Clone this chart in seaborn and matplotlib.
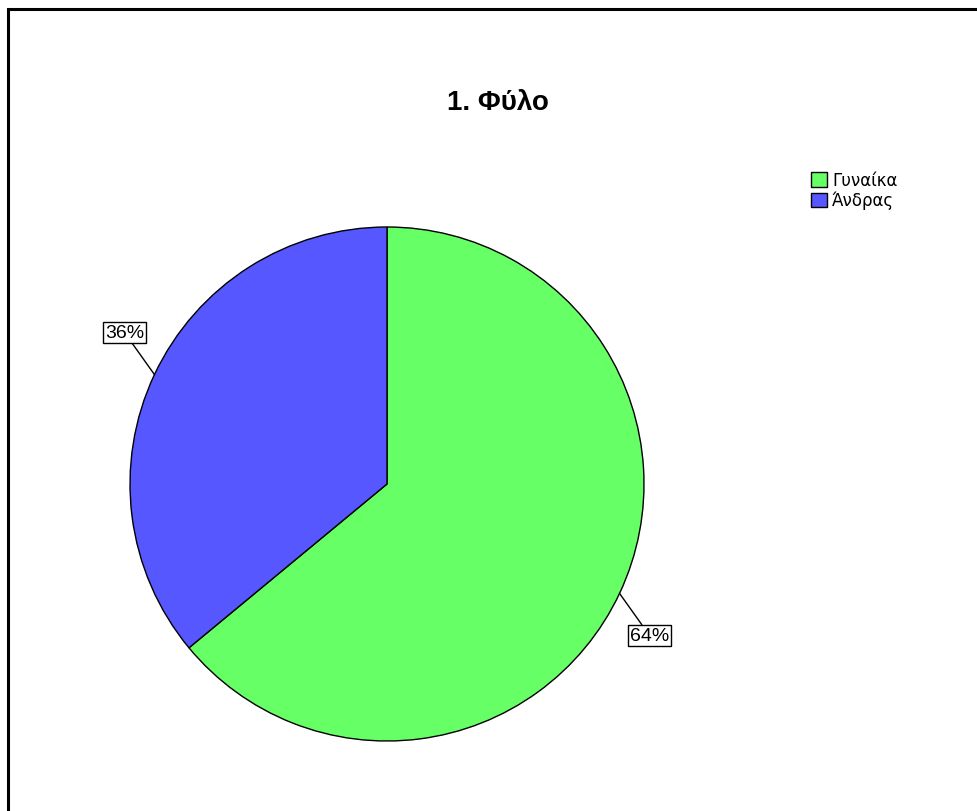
import numpy as np
import seaborn as sns
import matplotlib.pyplot as plt
from matplotlib.patches import Patch, Rectangle

# δεδομένα
categories = ['Γυναίκα', 'Άνδρας']
percentages = [64, 36]
pct_labels = ['64%', '36%']
colors = ['#66ff66', '#5757ff']

sns.set_theme(style='white')
plt.rcParams['font.family'] = ['DejaVu Sans']
plt.rcParams['text.color'] = 'black'

fig = plt.figure(figsize=(9.78, 8.12), dpi=100)
fig.patch.set_facecolor('white')

# πλαίσιο γύρω από το γράφημα (μόνο πάνω/αριστερά φαίνονται)
fig.patches.append(Rectangle((8 / 978, -0.2), 1.2, 0.2 + 1 - 10 / 812,
                             transform=fig.transFigure, fill=False,
                             edgecolor='black', linewidth=2.2))

fig.text(498 / 978, 1 - 103 / 812, '1. Φύλο', ha='center', va='center',
         fontsize=20, fontweight='bold', family=['Liberation Sans', 'DejaVu Sans'])

ax = fig.add_axes([(387 - 257) / 978, (327 - 257) / 812, 514 / 978, 514 / 812])
wedges, _ = ax.pie(percentages, colors=colors, startangle=90, counterclock=False,
                   wedgeprops=dict(edgecolor='black', linewidth=1))
ax.set_xlim(-1, 1)
ax.set_ylim(-1, 1)
ax.set_aspect('equal')
ax.axis('off')

# ετικέτες ποσοστών με γραμμές
for w, lab in zip(wedges, pct_labels):
    mid = np.deg2rad((w.theta1 + w.theta2) / 2)
    off = mid - np.deg2rad(4.8)
    ax.annotate(lab, xy=(np.cos(mid), np.sin(mid)),
                xytext=(1.18 * np.cos(off), 1.18 * np.sin(off)),
                ha='center', va='center', fontsize=14,
                family=['Liberation Sans Narrow', 'Liberation Sans', 'DejaVu Sans'],
                bbox=dict(boxstyle='square,pad=0.1', fc='white', ec='black', lw=1),
                arrowprops=dict(arrowstyle='-', color='black', lw=1,
                                shrinkA=0, shrinkB=0),
                annotation_clip=False)

handles = [Patch(facecolor=c, edgecolor='black', linewidth=1) for c in colors]
fig.legend(handles, categories, loc='upper left',
           bbox_to_anchor=(803 / 978, 1 - 164 / 812), frameon=False,
           handlelength=0.95, handleheight=0.95, handletextpad=0.3,
           labelspacing=0.1, borderpad=0,
           prop={'family': ['DejaVu Sans'], 'size': 12})

fig.savefig('out.png', dpi=100, facecolor='white')
